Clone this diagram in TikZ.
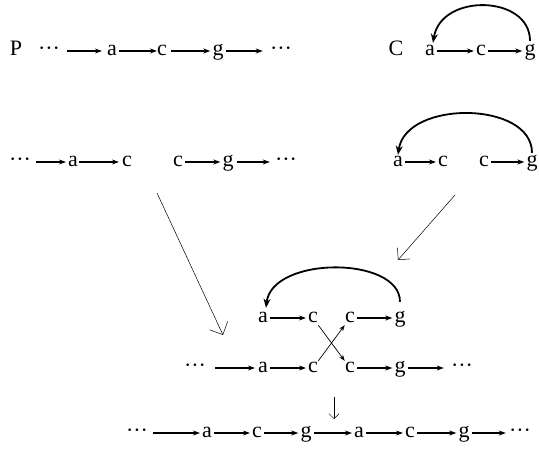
\documentclass[tikz,border=0pt]{standalone}
\usepackage{fontspec}
\setmainfont{Liberation Serif}
\usetikzlibrary{arrows.meta}

\tikzset{
  lt/.style={inner sep=2pt, text height=10pt, text depth=0pt,
             font=\fontsize{22}{24}\selectfont},
  chain/.style={line width=1.1pt, -{Stealth[length=7pt,width=5pt]}},
  back/.style={line width=1.8pt, -{Stealth[length=9pt,width=7pt]}},
  swap/.style={line width=0.7pt, -{Stealth[length=6pt,width=4.5pt]}},
  flow/.style={line width=0.5pt, -{Straight Barb[length=10pt,width=20pt,line width=0.5pt]}},
  step down/.style={line width=0.5pt, -{Straight Barb[length=5pt,width=10pt,line width=0.5pt]}}
}
\newcommand{\dd}{\textperiodcentered\textperiodcentered\textperiodcentered}

\begin{document}
\begin{tikzpicture}[x=1pt,y=-1pt]
\useasboundingbox (0,0) rectangle (539,457);

% linear strand P
\node[lt] (p)   at (16,51)  {P};
\node[lt] (pd1) at (49,51)  {\dd};
\node[lt] (pa)  at (112,51) {a};
\node[lt] (pc)  at (162,51) {c};
\node[lt] (pg)  at (218,51) {g};
\node[lt] (pd2) at (281,51) {\dd};
\draw[chain, shorten <=5pt, shorten >=3pt] (pd1) -- (pa);
\draw[chain, shorten >=-2pt] (pa) -- (pc);
\draw[chain, shorten <=2pt] (pc) -- (pg);
\draw[chain, shorten >=5pt] (pg) -- (pd2);

% circular strand C
\node[lt] (cl) at (396,51) {C};
\node[lt] (ca) at (430,51) {a};
\node[lt] (cc) at (481,51) {c};
\node[lt] (cg) at (530,51) {g};
\draw[chain] (ca) -- (cc);
\draw[chain] (cc) -- (cg);
\draw[back] ([yshift=3pt]cg.north) .. controls +(0,-46) and +(8,-50) .. ([xshift=3pt,yshift=1pt]ca.north);

% P cut between a and c
\node[lt] (ld1) at (20,162)  {\dd};
\node[lt] (la)  at (73,162)  {a};
\node[lt] (lc1) at (127,162) {c};
\node[lt] (lc2) at (178,162) {c};
\node[lt] (lg)  at (228,162) {g};
\node[lt] (ld2) at (286,162) {\dd};
\draw[chain, shorten <=3pt] (ld1) -- (la);
\draw[chain, shorten <=-1pt, shorten >=1pt] (la) -- (lc1);
\draw[chain] (lc2) -- (lg);
\draw[chain, shorten <=1pt, shorten >=3pt] (lg) -- (ld2);

% C cut between a and c
\node[lt] (ra)  at (398,162) {a};
\node[lt] (rc1) at (443,162) {c};
\node[lt] (rc2) at (484,162) {c};
\node[lt] (rg)  at (532,162) {g};
\draw[chain] (ra) -- (rc1);
\draw[chain] (rc2) -- (rg);
\draw[back] ([yshift=2pt]rg.north) .. controls +(0,-52) and +(8,-55) .. ([yshift=0pt]ra.north);

% flow of the two cut strands into the exchange
\coordinate (fl0) at (157,193);
\coordinate (fl1) at (223,335);
\coordinate (fr0) at (455,195);
\coordinate (fr1) at (398,260);
\draw[flow] (fl0) -- (fl1);
\draw[flow, -{Straight Barb[length=8.5pt,width=17pt,line width=0.5pt]}] (fr0) -- (fr1);

% exchange: upper circle strand
\node[lt] (ua)  at (263,318) {a};
\node[lt] (uc1) at (313,318) {c};
\node[lt] (uc2) at (350,318) {c};
\node[lt] (ug)  at (400,318) {g};
\draw[chain] (ua) -- (uc1);
\draw[chain] (uc2) -- (ug);
\draw[back] ([yshift=9pt]ug.north) .. controls +(0,-46) and +(6,-52) .. ([xshift=3pt,yshift=3pt]ua.north);

% exchange: lower linear strand
\node[lt] (bd1) at (195,368) {\dd};
\node[lt] (ba)  at (263,368) {a};
\node[lt] (bc1) at (313,368) {c};
\node[lt] (bc2) at (350,368) {c};
\node[lt] (bg)  at (400,368) {g};
\node[lt] (bd2) at (462,368) {\dd};
\draw[chain, shorten <=7pt, shorten >=1pt] (bd1) -- (ba);
\draw[chain] (ba) -- (bc1);
\draw[chain] (bc2) -- (bg);
\draw[chain, shorten >=5pt] (bg) -- (bd2);

% crossover
\draw[swap] (uc1) -- (bc2);
\draw[swap] (bc1) -- (uc2);

% result
\coordinate (s0) at (334,397);
\coordinate (s1) at (334,419);
\draw[step down] (s0) -- (s1);

\node[lt] (fd1) at (137,433) {\dd};
\node[lt] (fa1) at (207,433) {a};
\node[lt] (fc1) at (257,433) {c};
\node[lt] (fg1) at (306,433) {g};
\node[lt] (fa2) at (359,433) {a};
\node[lt] (fc2) at (410,433) {c};
\node[lt] (fg2) at (464,433) {g};
\node[lt] (fd2) at (520,433) {\dd};
\draw[chain, shorten <=3pt] (fd1) -- (fa1);
\draw[chain] (fa1) -- (fc1);
\draw[chain] (fc1) -- (fg1);
\draw[chain] (fg1) -- (fa2);
\draw[chain] (fa2) -- (fc2);
\draw[chain] (fc2) -- (fg2);
\draw[chain, shorten >=1pt] (fg2) -- (fd2);
\end{tikzpicture}
\end{document}
